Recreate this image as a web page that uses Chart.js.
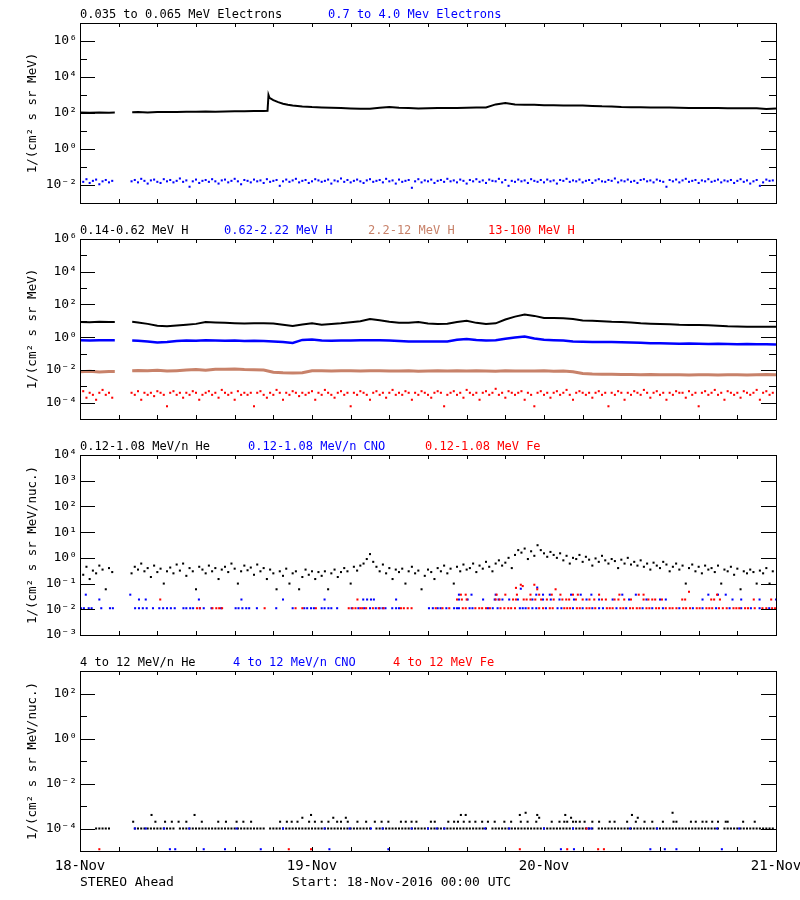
<!DOCTYPE html>
<html>
<head>
<meta charset="utf-8">
<script src="https://cdn.jsdelivr.net/npm/chart.js@4.4.1/dist/chart.umd.min.js"></script>
<style>
  body { margin: 0; background: #fff; width: 800px; height: 900px; position: relative; overflow: hidden; }
  canvas { position: absolute; left: 0; }
</style>
</head>
<body>
<canvas id="p1" width="800" height="216" style="top:0px"></canvas>
<canvas id="p2" width="800" height="216" style="top:216px"></canvas>
<canvas id="p3" width="800" height="216" style="top:432px"></canvas>
<canvas id="p4" width="800" height="252" style="top:648px"></canvas>
<script>
// ---- data (hours since 18-Nov-2016 00:00 UTC) ----
const dayLabels = ["18-Nov", "19-Nov", "20-Nov", "21-Nov"];

// 20-minute sample grid used by the noisy channels
const grid20 = Array.from({ length: 216 }, (_, i) => i / 3);

// panel 1: 0.035-0.065 MeV electrons (smooth)
const elecHours = [0, 1, 2, 3, 3.6, 4.5, 5.4, 6, 7, 8, 9, 10, 11, 12, 13, 14, 15, 16, 17, 18, 19,
  19.4, 19.5, 19.6, 20, 20.5, 21, 21.5, 22,
  23, 24, 25, 26, 27, 28, 29, 30, 31, 32, 33, 34, 35, 36, 37, 38, 39, 40, 41, 42,
  43, 44, 45, 46, 47, 48, 49, 50, 51, 52, 53, 54, 55, 56, 57, 58, 59, 60, 61, 62,
  63, 64, 65, 66, 67, 68, 69, 70, 71, 72];
const elecLow = [105, 102, 108, 104, 106, null, 110,
  112, 108, 115, 112, 114, 118, 116, 120, 118, 122, 124, 125, 128, 130,
  132, 1000, 700,
  520, 400, 330, 290, 260,
  232, 215, 205, 195, 190, 180, 172, 170, 195, 215,
  195, 188, 178, 185, 190, 188, 192, 195, 200, 205,
  300, 360, 300, 290, 285, 270, 268, 265, 262, 258,
  245, 235, 232, 215, 210, 208, 205, 203, 200, 195,
  192, 190, 190, 188, 186, 185, 184, 182, 168, 180];

// panel 1: 0.7-4.0 MeV electrons (20-min grid)
const elecHigh = [
  0.018, 0.015, 0.021, 0.013, 0.017, 0.02, 0.011, 0.016, 0.019, 0.014, 0.017, null, null, null, null, null,
  0.016, 0.019, 0.014, 0.022, 0.017, 0.012, 0.018, 0.02, 0.015, 0.013, 0.021, 0.016,
  0.019, 0.014, 0.017, 0.023, 0.015, 0.018, 0.008, 0.016, 0.02, 0.013, 0.017, 0.019,
  0.015, 0.021, 0.016, 0.012, 0.018, 0.02, 0.014, 0.017, 0.022, 0.016, 0.011, 0.019,
  0.017, 0.014, 0.02, 0.016, 0.018, 0.013, 0.021, 0.015, 0.017, 0.019, 0.009, 0.016,
  0.02, 0.015, 0.018, 0.022, 0.014, 0.017, 0.019, 0.013, 0.016, 0.021, 0.018, 0.015,
  0.017, 0.02, 0.012, 0.018, 0.016, 0.023, 0.015, 0.019, 0.014, 0.017, 0.02, 0.016,
  0.013, 0.018, 0.021, 0.015, 0.017, 0.019, 0.014, 0.022, 0.016, 0.018, 0.012, 0.02,
  0.015, 0.017, 0.019, 0.007, 0.016, 0.021, 0.014, 0.018, 0.016, 0.02, 0.013, 0.017,
  0.019, 0.015, 0.022, 0.016, 0.018, 0.014, 0.02, 0.017, 0.012, 0.019, 0.016, 0.021,
  0.015, 0.018, 0.013, 0.02, 0.017, 0.016, 0.022, 0.014, 0.019, 0.009, 0.017, 0.015,
  0.02, 0.016, 0.018, 0.013, 0.021, 0.017, 0.015, 0.019, 0.014, 0.02, 0.016, 0.018,
  0.012, 0.019, 0.017, 0.022, 0.015, 0.018, 0.016, 0.02, 0.014, 0.017, 0.019, 0.013,
  0.018, 0.021, 0.016, 0.015, 0.019, 0.017, 0.023, 0.014, 0.018, 0.016, 0.02, 0.015,
  0.017, 0.013, 0.019, 0.021, 0.016, 0.018, 0.014, 0.02, 0.017, 0.015, 0.008, 0.019,
  0.016, 0.02, 0.014, 0.018, 0.022, 0.015, 0.017, 0.019, 0.013, 0.018, 0.016, 0.021,
  0.015, 0.017, 0.02, 0.014, 0.018, 0.016, 0.019, 0.013, 0.017, 0.021, 0.015, 0.018,
  0.012, 0.016, 0.019, 0.009, 0.014, 0.02, 0.017, 0.018];

// panel 2: protons, hourly smooth channels
const protonHours = [0, 1, 2, 3, 3.6, 4.5, 5.4, 6, 7, 8, 9, 10, 11, 12, 13, 14, 15, 16, 17, 18, 19, 20,
  21, 22, 23, 24, 25, 26, 27, 28, 29, 30, 31, 32, 33, 34, 35, 36, 37, 38, 39, 40, 41, 42, 43, 44,
  45, 46, 47, 48, 49, 50, 51, 52, 53, 54, 55, 56, 57, 58, 59, 60, 61, 62, 63, 64, 65, 66, 67, 68,
  69, 70, 71, 72];
const protonLow = [8.5, 8.2, 8.8, 8.5, 8.6, null, 8.8,
  8.0, 6.5, 5.0, 4.6, 5.2, 5.8, 6.5, 8.5, 8.0, 7.5,
  7.2, 6.8, 7.0, 7.2, 6.8, 5.8, 4.8, 6.0, 7.0, 5.8,
  6.5, 7.2, 8.3, 9.5, 13, 11, 8.8, 7.5, 7.5, 8.5,
  6.8, 6.5, 6.6, 8.5, 10, 7.5, 6.3, 7.0, 12, 18,
  24, 20, 15, 15, 14.5, 13, 10.5, 10.2, 9.5, 8.8,
  8.5, 8.0, 7.0, 6.6, 6.4, 6.2, 5.8, 5.6, 5.5, 5.4,
  5.0, 4.6, 4.5, 4.4, 4.4, 4.3, 4.4];
const protonMid = [0.65, 0.63, 0.66, 0.64, 0.65, null, 0.62,
  0.6, 0.55, 0.48, 0.5, 0.58, 0.62, 0.6, 0.66, 0.62, 0.6,
  0.62, 0.58, 0.6, 0.58, 0.55, 0.5, 0.44, 0.68, 0.72, 0.62,
  0.6, 0.62, 0.63, 0.64, 0.66, 0.64, 0.62, 0.58, 0.55, 0.55,
  0.54, 0.54, 0.55, 0.7, 0.78, 0.68, 0.62, 0.64, 0.8, 0.95,
  1.1, 0.82, 0.7, 0.65, 0.62, 0.55, 0.52, 0.5, 0.5, 0.5,
  0.49, 0.47, 0.45, 0.43, 0.42, 0.41, 0.4, 0.41, 0.39, 0.38,
  0.39, 0.38, 0.37, 0.38, 0.37, 0.37, 0.36];
const protonHigh = [0.0078, 0.0082, 0.0075, 0.008, 0.0079, null, 0.009,
  0.0092, 0.0088, 0.0095, 0.0085, 0.009, 0.0098, 0.0105, 0.0095, 0.011, 0.0108,
  0.0112, 0.0105, 0.0102, 0.0098, 0.0072, 0.0066, 0.0064, 0.0068, 0.009, 0.0088,
  0.0087, 0.009, 0.0088, 0.0086, 0.0089, 0.0088, 0.0086, 0.0085, 0.0088, 0.0084,
  0.0087, 0.009, 0.0086, 0.0088, 0.0085, 0.0089, 0.0087, 0.0084, 0.0088, 0.0086,
  0.0087, 0.0085, 0.0088, 0.0084, 0.0086, 0.0078, 0.006, 0.0056, 0.0055, 0.0054,
  0.0053, 0.0052, 0.0051, 0.0052, 0.005, 0.0051, 0.005, 0.0049, 0.005, 0.0051,
  0.0049, 0.005, 0.0051, 0.0049, 0.005, 0.0052, 0.0051];

// panel 2: 13-100 MeV H (20-min grid)
const protonTop = [
  3e-4, 5e-4, 2e-4, 4e-4, 3e-4, 1.5e-4, 4e-4, 6e-4, 3e-4, 4e-4, 2e-4, null, null, null, null, null,
  4e-4, 3e-4, 5e-4, 1.5e-4, 4e-4, 3e-4, 4e-4, 2.5e-4, 5e-4, 4e-4, 3e-4, 6e-5,
  4e-4, 5e-4, 3e-4, 4e-4, 2e-4, 4e-4, 3e-4, 5e-4, 4e-4, 1.5e-4, 3e-4, 4e-4,
  5e-4, 3e-4, 4e-4, 2e-4, 6e-4, 4e-4, 3e-4, 4e-4, 1.5e-4, 5e-4, 3e-4, 4e-4,
  3e-4, 4e-4, 6e-5, 4e-4, 5e-4, 3e-4, 2e-4, 4e-4, 3e-4, 6e-4, 4e-4, 1.5e-4,
  4e-4, 3e-4, 5e-4, 4e-4, 2.5e-4, 4e-4, 3e-4, 4e-4, 5e-4, 1.5e-4, 4e-4, 3e-4,
  6e-4, 4e-4, 3e-4, 2e-4, 4e-4, 5e-4, 3e-4, 4e-4, 6e-5, 4e-4, 3e-4, 5e-4,
  4e-4, 3e-4, 1.5e-4, 4e-4, 5e-4, 3e-4, 4e-4, 2e-4, 4e-4, 6e-4, 3e-4, 4e-4,
  3e-4, 5e-4, 4e-4, 1.5e-4, 4e-4, 3e-4, 5e-4, 4e-4, 3e-4, 2e-4, 4e-4, 5e-4,
  4e-4, 6e-5, 3e-4, 4e-4, 5e-4, 3e-4, 4e-4, 2e-4, 6e-4, 4e-4, 3e-4, 4e-4,
  1.5e-4, 4e-4, 5e-4, 3e-4, 4e-4, 7e-4, 3e-4, 4e-4, 2e-4, 5e-4, 4e-4, 3e-4,
  4e-4, 5e-4, 1.5e-4, 4e-4, 3e-4, 6e-5, 4e-4, 5e-4, 3e-4, 4e-4, 2e-4, 4e-4,
  5e-4, 3e-4, 4e-4, 6e-4, 3e-4, 1.5e-4, 4e-4, 5e-4, 4e-4, 3e-4, 4e-4, 2e-4,
  4e-4, 5e-4, 3e-4, 4e-4, 6e-5, 4e-4, 3e-4, 5e-4, 4e-4, 1.5e-4, 4e-4, 3e-4,
  5e-4, 4e-4, 3e-4, 6e-4, 4e-4, 2e-4, 4e-4, 5e-4, 3e-4, 4e-4, 1.5e-4, 4e-4,
  3e-4, 5e-4, 4e-4, 4e-4, 2e-4, 5e-4, 3e-4, 4e-4, 6e-5, 4e-4, 5e-4, 3e-4,
  4e-4, 6e-4, 3e-4, 4e-4, 1.5e-4, 5e-4, 4e-4, 3e-4, 4e-4, 2e-4, 5e-4, 4e-4,
  3e-4, 4e-4, 6e-4, 1.5e-4, 4e-4, 5e-4, 3e-4, 4e-4];

// panel 3: 0.12-1.08 MeV/n He (20-min grid)
const heLow = [
  0.3, 0.22, 0.45, 0.15, 0.32, 0.25, 0.5, 0.35, 0.06, 0.4, 0.28, null, null, null, null, null,
  0.25, 0.45, 0.35, 0.6, 0.3, 0.4, 0.18, 0.5, 0.28, 0.38, 0.1, 0.3,
  0.42, 0.25, 0.55, 0.32, 0.6, 0.2, 0.4, 0.3, 0.06, 0.45, 0.35, 0.25,
  0.5, 0.3, 0.4, 0.15, 0.35, 0.45, 0.28, 0.6, 0.38, 0.1, 0.3, 0.5,
  0.33, 0.42, 0.22, 0.55, 0.3, 0.4, 0.15, 0.35, 0.25, 0.06, 0.3, 0.2,
  0.38, 0.1, 0.25, 0.3, 0.06, 0.18, 0.35, 0.22, 0.3, 0.15, 0.28, 0.2,
  0.3, 0.06, 0.25, 0.35, 0.18, 0.28, 0.4, 0.3, 0.1, 0.45, 0.32, 0.5,
  0.6, 0.9, 1.4, 0.7, 0.45, 0.3, 0.55, 0.25, 0.4, 0.15, 0.35, 0.28,
  0.38, 0.1, 0.3, 0.45, 0.25, 0.32, 0.06, 0.2, 0.35, 0.28, 0.15, 0.4,
  0.3, 0.5, 0.25, 0.38, 0.1, 0.45, 0.3, 0.55, 0.35, 0.4, 0.6, 0.28,
  0.5, 0.38, 0.7, 0.45, 0.3, 0.6, 0.8, 0.5, 0.65, 1.0, 0.4, 1.3,
  2.0, 1.6, 2.3, 0.9, 1.8, 1.2, 3.1, 2.0, 1.5, 1.1, 1.7, 1.3,
  1.0, 1.5, 0.8, 1.2, 0.6, 1.0, 0.9, 1.3, 0.7, 1.1, 0.85, 0.5,
  0.95, 0.7, 1.2, 0.8, 0.6, 0.9, 0.75, 0.4, 0.85, 0.6, 1.0, 0.55,
  0.7, 0.5, 0.8, 0.45, 0.6, 0.35, 0.65, 0.5, 0.4, 0.7, 0.55, 0.3,
  0.45, 0.6, 0.35, 0.5, 0.1, 0.4, 0.55, 0.3, 0.45, 0.25, 0.5, 0.35,
  0.4, 0.28, 0.5, 0.1, 0.35, 0.3, 0.45, 0.22, 0.38, 0.06, 0.3, 0.25,
  0.35, 0.28, 0.1, 0.32, 0.25, 0.4, 0.1, 0.3];

// panel 3: 0.12-1.08 MeV/n CNO, [hour, value]
const cnoLow = [
  [0.1, 0.011], [0.4, 0.011], [0.9, 0.011], [1.2, 0.011], [2.2, 0.011], [3.1, 0.011], [3.4, 0.011],
  [5.7, 0.011], [6.1, 0.011], [6.5, 0.011], [6.9, 0.011], [7.55, 0.011], [8.2, 0.011], [8.6, 0.011],
  [9.0, 0.011], [9.4, 0.011], [9.8, 0.011], [10.7, 0.011], [11.0, 0.011], [11.4, 0.011], [11.7, 0.011],
  [12.4, 0.011], [12.8, 0.011], [13.6, 0.011], [14.6, 0.011], [16.1, 0.011], [16.4, 0.011], [16.8, 0.011],
  [17.2, 0.011], [17.5, 0.011], [18.3, 0.011], [20.3, 0.011], [22.0, 0.011], [23.2, 0.011], [23.5, 0.011],
  [23.9, 0.011], [24.2, 0.011], [25.0, 0.011], [25.3, 0.011], [25.7, 0.011], [26.0, 0.011], [26.6, 0.011],
  [28.1, 0.011], [28.8, 0.011], [29.4, 0.011], [30.0, 0.011], [30.6, 0.011], [31.0, 0.011], [31.3, 0.011],
  [31.6, 0.011], [32.3, 0.011], [32.7, 0.011], [33.0, 0.011],
  [36.1, 0.011], [36.5, 0.011], [37.0, 0.011], [37.3, 0.011], [37.9, 0.011], [38.7, 0.011], [39.0, 0.011],
  [39.2, 0.011], [40.3, 0.011], [40.6, 0.011], [42.2, 0.011], [42.7, 0.011], [43.2, 0.011], [45.5, 0.011],
  [45.8, 0.011], [46.1, 0.011], [46.8, 0.011], [47.2, 0.011], [48.2, 0.011], [49.4, 0.011], [49.8, 0.011],
  [51.0, 0.011], [52.0, 0.011], [53.0, 0.011], [53.7, 0.011], [54.1, 0.011], [55.5, 0.011], [56.5, 0.011],
  [58.2, 0.011], [59.2, 0.011], [60.3, 0.011], [62.0, 0.011], [63.4, 0.011], [64.4, 0.011], [65.8, 0.011],
  [67.2, 0.011], [68.4, 0.011], [69.4, 0.011], [70.3, 0.011], [71.3, 0.011]];
const cnoHigh = [
  [2.0, 0.024], [6.1, 0.024], [6.8, 0.024], [12.3, 0.024], [16.7, 0.024], [21.0, 0.024], [25.3, 0.024],
  [29.3, 0.024], [29.7, 0.024], [30.1, 0.024], [30.4, 0.024], [32.7, 0.024], [39.2, 0.024], [40.1, 0.024],
  [41.7, 0.024], [42.9, 0.024], [43.3, 0.024], [43.7, 0.024], [44.4, 0.024], [45.3, 0.024], [46.8, 0.024],
  [47.9, 0.024], [48.7, 0.024], [49.6, 0.024], [51.1, 0.024], [52.4, 0.024], [53.7, 0.024], [55.1, 0.024],
  [56.8, 0.024], [58.6, 0.024], [60.0, 0.024], [60.6, 0.024], [64.4, 0.024], [67.5, 0.024], [68.4, 0.024],
  [70.3, 0.024], [72.0, 0.024],
  [0.6, 0.037], [5.2, 0.037], [39.2, 0.037], [40.5, 0.037], [43.0, 0.037], [47.2, 0.037], [47.9, 0.037],
  [48.6, 0.037], [50.8, 0.037], [51.8, 0.037], [52.9, 0.037], [56.1, 0.037], [57.5, 0.037], [65.0, 0.037],
  [66.0, 0.037], [66.8, 0.037], [45.6, 0.063], [47.3, 0.07]];

// panel 3: 0.12-1.08 MeV Fe, [hour, value]
const feLow = [
  [12.1, 0.011], [12.4, 0.011], [13.7, 0.011], [14.1, 0.011], [14.4, 0.011], [14.7, 0.011], [19.1, 0.011],
  [22.3, 0.011], [23.0, 0.011], [24.4, 0.011], [27.8, 0.011], [28.2, 0.011], [28.5, 0.011], [29.0, 0.011],
  [29.2, 0.011], [29.6, 0.011], [30.3, 0.011], [30.9, 0.011], [31.4, 0.011], [33.2, 0.011], [33.5, 0.011],
  [33.9, 0.011], [34.3, 0.011],
  [36.8, 0.011], [37.5, 0.011], [38.2, 0.011], [39.6, 0.011], [39.9, 0.011], [40.9, 0.011], [41.3, 0.011],
  [41.6, 0.011], [42.0, 0.011], [42.4, 0.011], [43.5, 0.011], [43.9, 0.011], [44.3, 0.011], [44.6, 0.011],
  [45.0, 0.011], [46.4, 0.011], [47.5, 0.011], [47.9, 0.011], [48.6, 0.011], [48.9, 0.011], [50.1, 0.011],
  [50.4, 0.011], [50.7, 0.011], [51.4, 0.011], [51.7, 0.011], [52.4, 0.011], [52.7, 0.011], [53.3, 0.011],
  [54.5, 0.011], [54.8, 0.011], [55.1, 0.011], [55.9, 0.011], [56.2, 0.011], [56.9, 0.011], [57.2, 0.011],
  [57.6, 0.011], [57.9, 0.011], [58.6, 0.011], [58.9, 0.011], [59.6, 0.011], [59.9, 0.011], [60.6, 0.011],
  [61.0, 0.011], [61.3, 0.011], [61.7, 0.011], [62.4, 0.011], [62.7, 0.011], [63.1, 0.011], [63.8, 0.011],
  [64.1, 0.011], [64.8, 0.011], [65.1, 0.011], [65.4, 0.011], [66.1, 0.011], [66.5, 0.011], [66.9, 0.011],
  [67.6, 0.011], [67.9, 0.011], [68.2, 0.011], [68.8, 0.011], [69.1, 0.011], [69.8, 0.011], [70.6, 0.011],
  [71.0, 0.011], [71.6, 0.011], [71.9, 0.011]];
const feHigh = [
  [8.3, 0.024], [28.7, 0.024], [39.0, 0.024], [39.5, 0.024], [40.0, 0.024], [43.0, 0.024], [43.4, 0.024],
  [44.8, 0.024], [45.1, 0.024], [45.9, 0.024], [46.2, 0.024], [46.6, 0.024], [47.1, 0.024], [47.7, 0.024],
  [48.3, 0.024], [49.0, 0.024], [49.9, 0.024], [50.3, 0.024], [50.6, 0.024], [51.3, 0.024], [52.0, 0.024],
  [52.7, 0.024], [53.2, 0.024], [54.0, 0.024], [54.4, 0.024], [55.3, 0.024], [55.7, 0.024], [56.3, 0.024],
  [57.0, 0.024], [58.3, 0.024], [58.8, 0.024], [59.2, 0.024], [59.5, 0.024], [60.2, 0.024], [62.3, 0.024],
  [62.6, 0.024], [65.3, 0.024], [65.6, 0.024], [66.2, 0.024], [69.7, 0.024], [71.5, 0.024],
  [39.4, 0.037], [39.9, 0.037], [43.1, 0.037], [44.0, 0.037], [45.2, 0.037], [46.6, 0.037], [47.5, 0.037],
  [48.8, 0.037], [49.7, 0.037], [51.0, 0.037], [51.5, 0.037], [53.7, 0.037], [55.8, 0.037], [57.8, 0.037],
  [58.3, 0.037], [65.9, 0.037],
  [45.1, 0.068], [45.6, 0.09], [45.8, 0.08], [47.0, 0.09], [47.3, 0.06], [49.2, 0.06], [63.0, 0.048]];

// panel 4: 4-12 MeV/n He, one-count level on the 20-min grid plus higher samples
const he4Base = [
  null, null, null, null, null, 1e-4, 1e-4, 1e-4, 1e-4, 1e-4, null, null, null, null, null, null,
  null, 1e-4, 1e-4, 1e-4, 1e-4, 1e-4, 1e-4, 1e-4, 1e-4, 1e-4, 1e-4, 1e-4,
  1e-4, 1e-4, null, 1e-4, 1e-4, 1e-4, 1e-4, 1e-4, 1e-4, 1e-4, 1e-4, 1e-4,
  1e-4, 1e-4, 1e-4, 1e-4, 1e-4, 1e-4, 1e-4, 1e-4, 1e-4, 1e-4, 1e-4, 1e-4,
  1e-4, 1e-4, 1e-4, 1e-4, 1e-4, 1e-4, null, 1e-4, 1e-4, 1e-4, 1e-4, 1e-4,
  1e-4, 1e-4, 1e-4, 1e-4, 1e-4, 1e-4, 1e-4, 1e-4, 1e-4, 1e-4, 1e-4, 1e-4,
  1e-4, 1e-4, 1e-4, 1e-4, 1e-4, 1e-4, 1e-4, 1e-4, 1e-4, 1e-4, 1e-4, 1e-4,
  1e-4, 1e-4, 1e-4, null, 1e-4, 1e-4, 1e-4, 1e-4, 1e-4, 1e-4, 1e-4, 1e-4,
  1e-4, 1e-4, 1e-4, 1e-4, 1e-4, 1e-4, 1e-4, 1e-4, 1e-4, 1e-4, 1e-4, 1e-4,
  1e-4, 1e-4, 1e-4, 1e-4, 1e-4, 1e-4, 1e-4, 1e-4, 1e-4, 1e-4, 1e-4, 1e-4,
  1e-4, 1e-4, 1e-4, null, 1e-4, 1e-4, 1e-4, 1e-4, 1e-4, 1e-4, 1e-4, 1e-4,
  1e-4, 1e-4, 1e-4, 1e-4, 1e-4, 1e-4, 1e-4, 1e-4, 1e-4, 1e-4, 1e-4, 1e-4,
  1e-4, 1e-4, 1e-4, 1e-4, 1e-4, 1e-4, 1e-4, 1e-4, 1e-4, 1e-4, 1e-4, 1e-4,
  null, 1e-4, 1e-4, 1e-4, 1e-4, 1e-4, 1e-4, 1e-4, 1e-4, 1e-4, 1e-4, 1e-4,
  1e-4, 1e-4, 1e-4, 1e-4, 1e-4, 1e-4, 1e-4, 1e-4, 1e-4, 1e-4, 1e-4, 1e-4,
  1e-4, 1e-4, 1e-4, 1e-4, 1e-4, 1e-4, 1e-4, 1e-4, 1e-4, 1e-4, 1e-4, 1e-4,
  1e-4, 1e-4, 1e-4, null, 1e-4, 1e-4, 1e-4, 1e-4, 1e-4, 1e-4, 1e-4, 1e-4,
  1e-4, 1e-4, 1e-4, 1e-4, 1e-4, 1e-4, 1e-4, 1e-4];
const he4Up = [
  [5.5, 2e-4], [7.4, 4e-4], [7.8, 2e-4], [8.8, 2e-4], [9.5, 2e-4], [10.2, 2e-4], [11, 2e-4], [11.85, 4e-4],
  [12.6, 2e-4], [14.3, 2e-4], [15.1, 2e-4], [16.2, 2e-4], [16.9, 2e-4], [17.7, 2e-4], [20.7, 2e-4],
  [21.4, 2e-4], [21.9, 2e-4], [22.5, 2e-4], [23, 3e-4], [23.7, 2e-4], [23.9, 4e-4], [24.3, 2e-4],
  [25, 2e-4], [25.7, 2e-4], [26.2, 3e-4], [26.6, 2e-4], [27, 2e-4], [27.5, 3e-4], [27.7, 2e-4],
  [28.7, 2e-4], [29.6, 2e-4], [30.5, 2e-4], [31.2, 2e-4], [31.9, 2e-4], [33.2, 2e-4], [33.7, 2e-4],
  [34.3, 2e-4], [34.8, 2e-4], [36.3, 2e-4], [36.7, 2e-4], [38.1, 2e-4], [38.7, 2e-4], [39.1, 2e-4],
  [39.4, 4e-4], [39.7, 2e-4], [39.9, 4e-4], [40.3, 2e-4], [40.9, 2e-4], [41.6, 2e-4], [42.2, 2e-4],
  [42.9, 2e-4], [43.9, 2e-4], [44.6, 2e-4], [45.5, 4e-4], [45.6, 2e-4], [46.1, 5e-4], [46.3, 2e-4],
  [47.2, 2e-4], [47.3, 4e-4], [47.5, 3e-4], [48.8, 2e-4], [49.6, 2e-4], [50.1, 2e-4], [50.2, 4e-4],
  [50.4, 2e-4], [50.8, 3e-4], [51, 2e-4], [51.3, 2e-4], [51.7, 2e-4], [52.2, 2e-4], [53, 2e-4],
  [53.7, 2e-4], [54.8, 2e-4], [55.3, 2e-4], [56.6, 2e-4], [57.1, 4e-4], [57.5, 2e-4], [57.7, 3e-4],
  [58.4, 2e-4], [59.2, 2e-4], [60.3, 2e-4], [61.3, 5e-4], [61.4, 2e-4], [61.7, 2e-4], [63.2, 2e-4],
  [63.7, 2e-4], [64.4, 2e-4], [64.8, 2e-4], [65.4, 2e-4], [66, 2e-4], [66.8, 2e-4], [67, 2e-4],
  [68.6, 2e-4], [69.8, 2e-4]];

// panel 4: 4-12 MeV/n CNO and 4-12 MeV Fe, [hour, value]
const cno4 = [
  [5.7, 1e-4], [6.8, 1e-4], [8.7, 1e-4], [11.3, 1e-4], [16.2, 1e-4], [21.0, 1e-4], [25.3, 1e-4],
  [27.9, 1e-4], [30.1, 1e-4], [31.3, 1e-4], [34.3, 1e-4], [36.0, 1e-4], [36.9, 1e-4], [37.7, 1e-4],
  [41.9, 1e-4], [44.4, 1e-4], [48.0, 1e-4], [51.0, 1e-4], [52.6, 1e-4], [52.9, 1e-4], [56.9, 1e-4],
  [59.7, 1e-4], [65.9, 1e-4], [68.2, 1e-4],
  [9.3, 1.2e-5], [9.85, 1.2e-5], [12.8, 1.2e-5], [15.0, 1.2e-5], [18.7, 1.2e-5], [25.8, 1.2e-5],
  [31.9, 1.2e-5], [49.75, 1.2e-5], [51.1, 1.2e-5], [59.0, 1.2e-5], [60.5, 1.2e-5], [61.7, 1.2e-5],
  [66.4, 1.2e-5]];
const fe4 = [
  [2.0, 1.2e-5], [21.6, 1.2e-5], [23.9, 1.2e-5], [45.5, 1.2e-5], [50.4, 1.2e-5], [53.6, 1.2e-5],
  [54.2, 1.2e-5], [52.4, 1e-4]];

// ---- helpers ----
const SUP = { "-": "\u207B", "0": "\u2070", "1": "\u00B9", "2": "\u00B2", "3": "\u00B3",
  "4": "\u2074", "5": "\u2075", "6": "\u2076", "7": "\u2077", "8": "\u2078", "9": "\u2079" };
const sup = (n) => String(n).split("").map((c) => SUP[c]).join("");

const onGrid = (hours, values) => values.map((v, i) => ({ x: hours[i], y: v }));
const fromPairs = (list) => list.map(([x, y]) => ({ x, y }));

const BLACK = "#000000";
const BLUE = "#0000ff";
const RED = "#ff0000";
const BROWN = "#c8826a";
const MONO = "'DejaVu Sans Mono', monospace";

const dots = (color, data) => ({
  data, showLine: false, pointStyle: "rect", pointRadius: 1.45,
  pointBackgroundColor: color, pointBorderWidth: 0, backgroundColor: color, borderColor: color,
});
const curve = (color, data, width) => ({
  data, showLine: true, borderColor: color, borderWidth: width, pointRadius: 0, spanGaps: false,
});

// frame, inward ticks and the coloured channel titles
const panelFrame = {
  id: "panelFrame",
  afterDraw(chart, args, opts) {
    const { ctx, chartArea: a, scales } = chart;
    ctx.save();
    ctx.strokeStyle = "#000";
    ctx.lineWidth = 1;
    ctx.strokeRect(a.left + 0.5, a.top + 0.5, a.right - a.left, a.bottom - a.top);
    ctx.beginPath();
    for (let e = opts.minExp; e <= opts.maxExp; e++) {
      const py = Math.round(scales.y.getPixelForValue(10 ** e)) + 0.5;
      const len = opts.labelled.includes(e) ? 15 : 7;
      ctx.moveTo(a.left, py); ctx.lineTo(a.left + len, py);
      ctx.moveTo(a.right - len, py); ctx.lineTo(a.right, py);
    }
    for (let h = 0; h <= 72; h += 4) {
      const px = Math.round(scales.x.getPixelForValue(h)) + 0.5;
      ctx.moveTo(px, a.bottom); ctx.lineTo(px, a.bottom - 4);
      ctx.moveTo(px, a.top); ctx.lineTo(px, a.top + 4);
    }
    ctx.stroke();
    ctx.textBaseline = "alphabetic";
    ctx.font = "12px " + MONO;
    opts.titles.forEach(([text, color, x]) => {
      ctx.fillStyle = color;
      ctx.fillText(text, x, 18);
    });
    if (opts.footer) {
      ctx.fillStyle = "#000";
      ctx.font = "13px " + MONO;
      opts.footer.forEach(([text, x, y]) => ctx.fillText(text, x, y));
    }
    ctx.restore();
  },
};

function makePanel(id, cfg) {
  const showX = !!cfg.showX;
  const decades = [];
  for (let e = cfg.minExp; e <= cfg.maxExp; e++) decades.push(e);
  return new Chart(document.getElementById(id), {
    type: "scatter",
    data: { datasets: cfg.datasets },
    options: {
      animation: false,
      responsive: false,
      devicePixelRatio: 1,
      events: [],
      layout: { padding: { top: 23, right: 24, bottom: showX ? 0 : 13, left: 0 } },
      plugins: {
        legend: { display: false },
        tooltip: { enabled: false },
        panelFrame: { minExp: cfg.minExp, maxExp: cfg.maxExp, labelled: cfg.labelled, titles: cfg.titles, footer: cfg.footer },
      },
      scales: {
        x: {
          type: "linear", min: 0, max: 72, display: showX,
          grid: { display: false, drawTicks: false }, border: { display: false },
          afterBuildTicks: (s) => { s.ticks = [0, 24, 48, 72].map((v) => ({ value: v })); },
          ticks: {
            callback: (v) => dayLabels[Math.round(v / 24)],
            color: "#000", font: { family: MONO, size: 14 }, maxRotation: 0, autoSkip: false, padding: 7,
          },
          afterFit: (s) => { s.height = showX ? 49 : 0; s.paddingLeft = 0; s.paddingRight = 0; },
        },
        y: {
          type: "logarithmic", min: 10 ** cfg.minExp, max: 10 ** cfg.maxExp,
          grid: { display: false, drawTicks: false }, border: { display: false },
          afterBuildTicks: (s) => { s.ticks = decades.map((e) => ({ value: 10 ** e })); },
          ticks: {
            callback: (v) => {
              const e = Math.round(Math.log10(v));
              return cfg.labelled.includes(e) ? "10" + sup(e) : "";
            },
            color: "#000", font: { family: MONO, size: 13 }, padding: 3, autoSkip: false,
          },
          title: {
            display: true, text: cfg.yTitle, color: "#000",
            font: { family: MONO, size: 12.5 }, padding: { top: 25, bottom: 0 },
          },
          afterFit: (s) => { s.width = 80; s.paddingTop = 0; s.paddingBottom = 0; },
        },
      },
    },
    plugins: [panelFrame],
  });
}

makePanel("p1", {
  minExp: -3, maxExp: 7, labelled: [-2, 0, 2, 4, 6],
  yTitle: "1/(cm\u00B2 s sr MeV)",
  titles: [["0.035 to 0.065 MeV Electrons", BLACK, 80], ["0.7 to 4.0 Mev Electrons", BLUE, 328]],
  datasets: [
    dots(BLUE, onGrid(grid20, elecHigh)),
    curve(BLACK, onGrid(elecHours, elecLow), 2),
  ],
});

makePanel("p2", {
  minExp: -5, maxExp: 6, labelled: [-4, -2, 0, 2, 4, 6],
  yTitle: "1/(cm\u00B2 s sr MeV)",
  titles: [["0.14-0.62 MeV H", BLACK, 80], ["0.62-2.22 MeV H", BLUE, 224],
    ["2.2-12 MeV H", BROWN, 368], ["13-100 MeV H", RED, 488]],
  datasets: [
    dots(RED, onGrid(grid20, protonTop)),
    curve(BROWN, onGrid(protonHours, protonHigh), 3),
    curve(BLUE, onGrid(protonHours, protonMid), 2.5),
    curve(BLACK, onGrid(protonHours, protonLow), 2),
  ],
});

makePanel("p3", {
  minExp: -3, maxExp: 4, labelled: [-3, -2, -1, 0, 1, 2, 3, 4],
  yTitle: "1/(cm\u00B2 s sr MeV/nuc.)",
  titles: [["0.12-1.08 MeV/n He", BLACK, 80], ["0.12-1.08 MeV/n CNO", BLUE, 248],
    ["0.12-1.08 MeV Fe", RED, 425]],
  datasets: [
    dots(RED, fromPairs(feLow.concat(feHigh))),
    dots(BLUE, fromPairs(cnoLow.concat(cnoHigh))),
    dots(BLACK, onGrid(grid20, heLow)),
  ],
});

makePanel("p4", {
  minExp: -5, maxExp: 3, labelled: [-4, -2, 0, 2], showX: true,
  yTitle: "1/(cm\u00B2 s sr MeV/nuc.)",
  titles: [["4 to 12 MeV/n He", BLACK, 80], ["4 to 12 MeV/n CNO", BLUE, 233],
    ["4 to 12 MeV Fe", RED, 393]],
  footer: [["STEREO Ahead", 80, 238], ["Start: 18-Nov-2016 00:00 UTC", 292, 238]],
  datasets: [
    dots(RED, fromPairs(fe4)),
    dots(BLUE, fromPairs(cno4)),
    dots(BLACK, fromPairs(he4Up)),
    dots(BLACK, onGrid(grid20, he4Base)),
  ],
});
</script>
</body>
</html>
